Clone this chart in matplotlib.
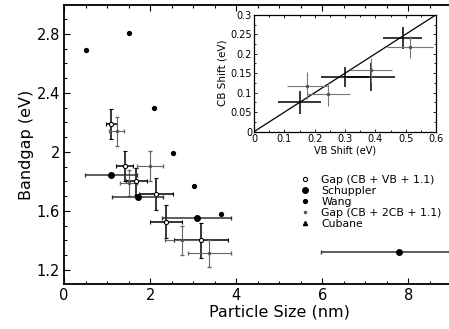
import numpy as np
import matplotlib
matplotlib.use("Agg")
import matplotlib.pyplot as plt
from matplotlib.ticker import MultipleLocator
from matplotlib.lines import Line2D

plt.rcParams["font.family"] = ["DejaVu Sans"]

# Bandgap vs particle size
wang_x = [0.5, 1.5, 2.08, 2.54, 3.02, 3.65]
wang_y = [2.69, 2.81, 2.30, 1.99, 1.77, 1.58]

schup_x = [1.09, 1.71, 3.08, 7.78]
schup_y = [1.845, 1.695, 1.55, 1.32]
schup_xerr = [0.6, 0.6, 0.8, 1.8]

# Gap (CB + VB + 1.1)
vb_x = [1.10, 1.41, 1.68, 2.14, 2.37, 3.18]
vb_y = [2.19, 1.905, 1.80, 1.715, 1.527, 1.40]
vb_xerr = [0.13, 0.20, 0.25, 0.40, 0.37, 0.63]
vb_yerr = [0.10, 0.10, 0.09, 0.11, 0.11, 0.12]

# Gap (CB + 2CB + 1.1)
cb_x = [1.22, 2.00, 1.50, 2.75, 3.37]
cb_y = [2.14, 1.905, 1.79, 1.40, 1.313]
cb_xerr = [0.18, 0.30, 0.20, 0.40, 0.50]
cb_yerr = [0.10, 0.10, 0.09, 0.10, 0.09]

cubane_x = []
cubane_y = []

# Inset: CB shift vs VB shift
in_k_x = [0.15, 0.30, 0.385, 0.49]
in_k_y = [0.075, 0.14, 0.14, 0.24]
in_k_xerr = [0.07, 0.08, 0.08, 0.065]
in_k_yerr = [0.03, 0.025, 0.035, 0.028]

in_g_x = [0.175, 0.245, 0.385, 0.515]
in_g_y = [0.118, 0.097, 0.158, 0.217]
in_g_xerr = [0.065, 0.07, 0.07, 0.075]
in_g_yerr = [0.035, 0.03, 0.03, 0.028]

fig = plt.figure(figsize=(4.49, 3.29), dpi=100)
# axes run past the right edge of the figure (x up to 10)
ax = fig.add_axes([0.1425, 0.137, 0.959, 0.848])

ax.errorbar(vb_x, vb_y, xerr=vb_xerr, yerr=vb_yerr, fmt="o", ms=3,
            mfc="white", mec="black", mew=0.8, ecolor="black", elinewidth=1.1,
            capsize=1.2, zorder=3)
ax.errorbar(schup_x, schup_y, xerr=schup_xerr, fmt="o", ms=4, color="black",
            ecolor="#333333", elinewidth=1.1, capsize=1.2, zorder=4)
ax.plot(wang_x, wang_y, "o", ms=2.8, color="black", zorder=4)
ax.errorbar(cb_x, cb_y, xerr=cb_xerr, yerr=cb_yerr, fmt="o", ms=1.5,
            color="#555555", ecolor="#666666", elinewidth=0.8, capsize=1.2,
            zorder=3)
ax.plot(cubane_x, cubane_y, "^", ms=3, color="black")

ax.set_xlim(0, 10)
ax.set_ylim(1.105, 2.997)
ax.set_xticks([0, 2, 4, 6, 8])
ax.xaxis.set_minor_locator(MultipleLocator(0.5))
ax.yaxis.set_minor_locator(MultipleLocator(0.1))
ax.set_yticks([1.2, 1.6, 2.0, 2.4, 2.8])
ax.set_yticklabels(["1.2", "1.6", "2", "2.4", "2.8"])
ax.tick_params(which="both", direction="in", top=True, right=False,
               labelsize=10.5, width=0.8, pad=3)
ax.tick_params(which="major", length=4)
ax.tick_params(which="minor", length=2)
for s in ax.spines.values():
    s.set_linewidth(1.3)
ax.set_xlabel("Particle Size (nm)", fontsize=11.5, labelpad=1)
ax.set_ylabel("Bandgap (eV)", fontsize=11.5, labelpad=2)

# legend shows markers only
handles = [
    Line2D([], [], ls="none", marker="o", ms=3, mfc="white", mec="black", mew=0.8),
    Line2D([], [], ls="none", marker="o", ms=4, color="black"),
    Line2D([], [], ls="none", marker="o", ms=2.8, color="black"),
    Line2D([], [], ls="none", marker="o", ms=1.5, color="#555555"),
    Line2D([], [], ls="none", marker="^", ms=3, color="black"),
]
labels = ["Gap (CB + VB + 1.1)", "Schuppler", "Wang",
          "Gap (CB + 2CB + 1.1)", "Cubane"]
ax.legend(handles, labels, loc="upper left", bbox_to_anchor=(0.535, 0.41),
          frameon=False, fontsize=7.8, handlelength=1.0, handletextpad=1.0,
          labelspacing=0.1, borderpad=0.0)

# Inset
ins = fig.add_axes([0.566, 0.60, 0.405, 0.355])
ins.plot([0, 0.6], [0, 0.3], color="black", lw=0.9, zorder=2)
ins.errorbar(in_k_x, in_k_y, xerr=in_k_xerr, yerr=in_k_yerr, fmt="none",
             ecolor="black", elinewidth=1.1, zorder=3)
ins.errorbar(in_g_x, in_g_y, xerr=in_g_xerr, yerr=in_g_yerr, fmt="o", ms=1.5,
             color="#555555", ecolor="#777777", elinewidth=0.8, zorder=3)
ins.set_xlim(0, 0.6)
ins.set_ylim(0, 0.3)
ins.set_xticks([0, 0.1, 0.2, 0.3, 0.4, 0.5, 0.6])
ins.set_xticklabels(["0", "0.1", "0.2", "0.3", "0.4", "0.5", "0.6"])
ins.set_yticks([0, 0.05, 0.1, 0.15, 0.2, 0.25, 0.3])
ins.set_yticklabels(["0", "0.05", "0.1", "0.15", "0.2", "0.25", "0.3"])
ins.xaxis.set_minor_locator(MultipleLocator(0.05))
ins.yaxis.set_minor_locator(MultipleLocator(0.025))
ins.tick_params(which="both", direction="in", top=True, right=True,
                labelsize=7, pad=1.5, width=0.6)
ins.tick_params(which="major", length=2.5)
ins.tick_params(which="minor", length=1.2)
for s in ins.spines.values():
    s.set_linewidth(0.9)
ins.set_xlabel("VB Shift (eV)", fontsize=7, labelpad=1)
ins.set_ylabel("CB Shift (eV)", fontsize=7.5, labelpad=2)

fig.savefig("out.png", dpi=100)
